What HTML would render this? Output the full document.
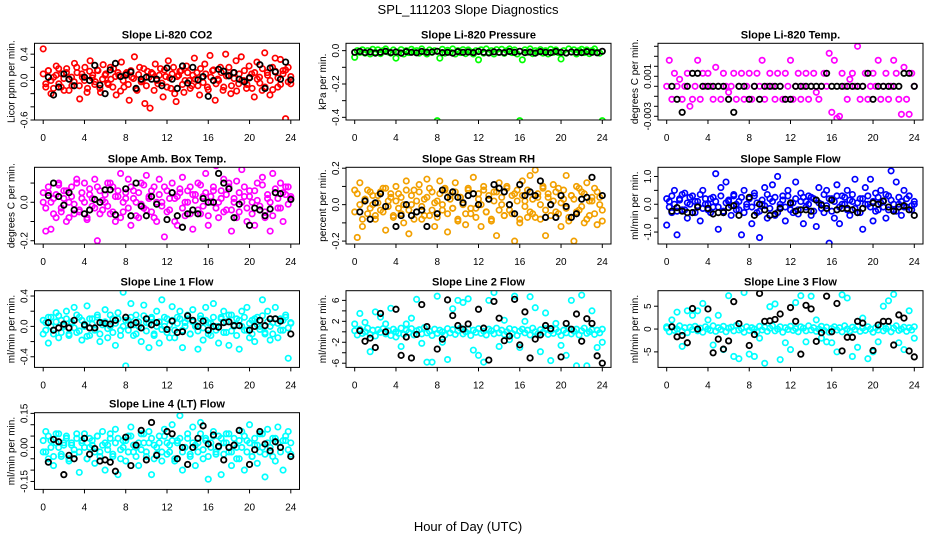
<!DOCTYPE html>
<html><head><meta charset="utf-8"><title>SPL_111203 Slope Diagnostics</title>
<style>html,body{margin:0;padding:0;background:#fff}svg{display:block;font-family:"Liberation Sans",sans-serif}</style>
</head><body>
<svg id="chart" width="936" height="540" viewBox="0 0 936 540" xmlns="http://www.w3.org/2000/svg">
<text x="468" y="14" text-anchor="middle" font-size="13">SPL_111203  Slope Diagnostics</text>
<text x="468" y="531" text-anchor="middle" font-size="13">Hour of Day (UTC)</text>
</svg>
<script>
const xTicks = [0,4,8,12,16,20,24];
const titles = ["Slope Li-820 CO2","Slope Li-820 Pressure","Slope Li-820 Temp.","Slope Amb. Box Temp.","Slope Gas Stream RH","Slope Sample Flow","Slope Line 1 Flow","Slope Line 2 Flow","Slope Line 3 Flow","Slope Line 4 (LT) Flow"];
const yTitles = ["Licor ppm per min.","kPa per min.","degrees C per min.","degrees C per min.","percent per min.","ml/min per min.","ml/min per min.","ml/min per min.","ml/min per min.","ml/min per min."];
const seriesColors = ["#ff0000","#00ff00","#ff00ff","#ff00ff","#f2a000","#0000ff","#00ffff","#00ffff","#00ffff","#00ffff"];
const yDomains = [[-0.6,0.565],[-0.416,0.044],[-0.00337,0.0043],[-0.217,0.182],[-0.216,0.205],[-1.43,1.33],[-0.54,0.47],[-6.8,7.85],[-8.4,8.4],[-0.185,0.153]];
const yTickValues = [[-0.6,-0.4,-0.2,0,0.2,0.4],[-0.4,-0.3,-0.2,-0.1,0],[-0.003,-0.002,-0.001,0,0.001,0.002,0.003,0.004],[-0.2,-0.1,0,0.1],[-0.2,-0.1,0,0.1,0.2],[-1,-0.5,0,0.5,1],[-0.4,-0.2,0,0.2,0.4],[-6,-4,-2,0,2,4,6],[-5,0,5],[-0.15,-0.1,-0.05,0,0.05,0.1,0.15]];
const yTickLabels = [["-0.6","","","0.0","","0.4"],["-0.4","","-0.2","","0.0"],["-0.003","","","","0.001","","",""],["-0.2","","0.0",""],["-0.2","","0.0","","0.2"],["-1.0","","0.0","","1.0"],["-0.4","","0.0","","0.4"],["-6","","-2","","2","","6"],["-5","0","5"],["-0.15","","","0.00","","","0.15"]];

const co2Values = [0.48,-0.1,0.15,-0.2,0.05,0.22,-0.05,0.1,-0.15,0.18,0.02,-0.08,0.26,0.12,-0.28,0.05,0.2,-0.12,0.3,0.08,-0.02,0.15,-0.18,0.24,0.1,-0.06,0.02,0.18,-0.22,0.08,0.28,-0.1,0.12,-0.3,0.05,0.36,-0.15,0.2,0.0,-0.35,0.14,-0.42,0.1,0.25,-0.05,0.18,-0.25,0.06,0.3,-0.12,0.2,-0.32,0.08,0.15,-0.18,0.22,0.0,-0.08,0.34,0.12,-0.22,0.05,0.25,-0.1,0.38,0.15,-0.3,0.02,0.2,-0.15,0.4,0.08,-0.2,0.12,0.3,-0.05,0.36,0.0,-0.12,0.22,0.1,-0.25,0.28,0.05,-0.15,0.42,0.12,-0.22,0.2,0.34,-0.1,0.32,0.15,-0.58,0.2,-0.05];
const co2Band = [0.1,-0.05,0.15,0.0,-0.12,0.08,0.18,-0.1,0.03,0.12,-0.15,0.05,-0.02,0.2,-0.08,0.1,0.0,-0.18,0.14,0.04,-0.06,0.16,-0.12,0.02,0.08,-0.04,0.2,-0.1,0.06,0.12,-0.16,0.0,0.1,-0.06,0.15,0.03,-0.13,0.09,-0.02,0.18,-0.08,0.05,0.12,-0.15,0.0,0.08,-0.04,0.16,-0.1,0.04,0.1,-0.2,0.06,0.14,-0.06,0.0,0.12,-0.12,0.08,0.02,-0.08,0.18,-0.03,0.1,-0.14,0.05,0.16,-0.05,0.0,0.12,-0.1,0.07,0.2,-0.08,0.03,-0.16,0.1,0.0,0.15,-0.06,0.05,-0.12,0.12,0.02,-0.04,0.18,-0.1,0.08,0.0,-0.14,0.14,0.04,-0.06,0.1,0.16,-0.02,0.06];
const co2Black = [null,0.05,-0.22,-0.1,0.1,0.02,-0.08,null,0.05,0.0,0.23,-0.07,-0.2,0.16,0.26,0.06,0.08,0.13,-0.12,0.02,0.05,0.02,0.02,-0.08,0.19,0.02,-0.12,0.22,-0.04,0.2,0.01,0.06,-0.24,0.0,0.17,0.14,0.07,0.12,0.02,-0.02,0.04,null,0.24,-0.12,0.19,0.13,0.02,0.28,0.01];
const pressureValues = [-0.04,0.0,-0.01,0.005,-0.015,0.0,-0.02,0.008, -0.01,0.005,-0.018,0.0,0.01,-0.008,-0.015,0.004, -0.045,-0.01,0.006,-0.02,0.0,-0.012,0.008,-0.005, 0.0,-0.015,0.01,-0.008,-0.02,0.004,-0.01,0.0, -0.42,-0.045,0.008,-0.015,0.002,-0.01,0.01,-0.02, 0.0,-0.012,0.006,-0.018,0.004,-0.008,-0.02,0.0, -0.055,0.005,-0.015,0.01,-0.01,0.0,-0.02,0.006, -0.01,0.008,-0.016,0.0,0.01,-0.012,0.004,-0.02, -0.42,-0.055,0.005,-0.01,0.01,-0.018,0.0,-0.008, 0.006,-0.015,0.0,-0.02,0.008,-0.01,0.004,-0.012, -0.05,0.0,-0.015,0.01,-0.008,0.005,-0.02,0.0, 0.008,-0.012,0.004,-0.018,0.0,0.01,-0.01,-0.015, -0.42];
const pressureBlack = [-0.01,-0.005,-0.012,-0.008,-0.015,-0.01,-0.004,-0.012,-0.008,-0.015,-0.006,-0.01,-0.013,-0.005,-0.01,-0.008,-0.004,-0.012,-0.01,-0.015,-0.006,-0.01,-0.008,-0.012,-0.005,-0.01,-0.014,-0.007,-0.01,-0.012,-0.005,-0.01,-0.004,-0.012,-0.009,-0.015,-0.006,-0.01,-0.012,-0.005,-0.01,-0.014,-0.008,-0.01,-0.012,-0.006,-0.01,-0.013,-0.004];
const tempValues = [0,0.0026,-0.0013,0.0013,0,0.0007,-0.0013,0, 0.0013,-0.002,-0.0013,0,0.0026,-0.0013,0.0013,0, 0.0013,0,-0.0013,0.0019,0,-0.0013,0.0013,0, -0.0006,0,0.0013,-0.0013,0,0.0013,-0.0013,0, 0.0013,-0.0013,0,0.0013,0,0.0026,-0.0013,0, 0.0013,0,-0.0013,0.0013,0,-0.0013,0.0013,0, 0.0026,-0.0013,0,0.0013,-0.0013,0,0.0013,-0.0013, 0,0.0013,-0.0006,-0.0013,0,0.0013,0,0.0033, -0.0026,0.0026,-0.0032,-0.003,0.0013,0,-0.0013,0.0007, 0.0013,0,0.004,-0.0013,0,0.0013,-0.0013,0, 0.0013,0,0.0026,-0.0013,0,0.0013,-0.0013,0, 0.0026,0.0013,-0.0013,-0.0028,0.0019,-0.0013,-0.0028,0.0013, 0];
const tempBlack = [null,0,-0.0013,-0.0026,0,0.0013,0.0013,0,0,0,0,0,-0.0013,-0.0026,0,0,-0.0013,0,-0.0013,0,0,0,0,-0.0013,-0.0013,0,0,0,0,0,0,0.0013,0,0,0,0,0,0,0,0.0013,-0.0013,0,0,0,0,0,0.0013,0.0013,0];
const ambValues = [0.0,-0.15,0.05,-0.14,0.02,-0.08,0.1,-0.03,0.06,-0.1,0.0,0.08,-0.06,0.12,-0.05,0.02,0.1,-0.08,0.04,-0.02,0.12,-0.2,0.06,-0.04,0.0,0.1,-0.06,0.08,-0.1,0.03,0.15,-0.05,0.02,0.12,-0.12,0.06,0.0,-0.08,0.1,-0.03,0.14,0.02,-0.05,0.08,-0.1,0.12,0.0,-0.18,0.06,-0.04,0.1,0.02,-0.12,0.05,0.13,-0.07,0.0,0.08,-0.14,0.04,0.1,-0.06,0.03,0.15,-0.12,0.0,0.06,0.19,-0.08,0.02,0.12,-0.04,0.08,-0.15,0.0,0.11,-0.05,0.17,0.03,-0.1,0.06,0.0,-0.12,0.1,-0.04,0.13,-0.08,0.02,-0.15,0.15,0.05,-0.03,0.1,-0.1,0.04,0.08,0.02];
const ambBand = [0.05,-0.03,0.08,0.0,-0.06,0.04,0.09,-0.05,0.02,0.06,-0.08,0.03,-0.01,0.1,-0.04,0.05,0.0,-0.09,0.07,0.02,-0.03,0.08,-0.06,0.01,0.04,-0.02,0.1,-0.05,0.03,0.06,-0.08,0.0,0.05,-0.03,0.08,0.02,-0.07,0.05,-0.01,0.09,-0.04,0.03,0.06,-0.08,0.0,0.04,-0.02,0.08,-0.05,0.02,0.05,-0.1,0.03,0.07,-0.03,0.0,0.06,-0.06,0.04,0.01,-0.04,0.09,-0.02,0.05,-0.07,0.03,0.08,-0.03,0.0,0.06,-0.05,0.04,0.1,-0.04,0.02,-0.08,0.05,0.0,0.08,-0.03,0.03,-0.06,0.06,0.01,-0.02,0.09,-0.05,0.04,0.0,-0.07,0.07,0.02,-0.03,0.05,0.08,-0.01,0.03];
const ambBlack = [null,0.035,0.1,0.03,-0.015,0.05,-0.04,null,-0.06,-0.04,0.015,0.0,0.065,0.065,-0.065,null,0.07,-0.07,0.1,-0.02,-0.07,0.03,-0.01,null,-0.09,0.05,-0.07,-0.13,-0.06,-0.04,-0.06,0.02,0.0,0.0,0.15,0.1,0.07,-0.08,-0.01,null,-0.12,-0.03,-0.04,-0.07,-0.035,0.05,0.045,null,0.015];
const rhValues = [0.08,-0.18,0.12,-0.12,0.03,-0.05,0.07,0.0,-0.08,0.05,-0.03,0.09,-0.14,0.02,0.06,-0.06,0.1,-0.02,0.04,-0.1,0.13,-0.16,0.0,0.08,-0.04,0.11,-0.08,0.03,0.14,-0.06,0.07,-0.12,0.02,0.13,-0.03,0.09,-0.15,0.05,-0.02,0.12,-0.09,0.04,0.0,-0.11,0.08,-0.05,0.15,-0.02,0.06,-0.12,0.1,-0.04,0.03,-0.08,0.07,-0.17,0.12,0.0,-0.06,0.1,-0.03,0.05,-0.2,0.08,-0.1,0.13,0.02,-0.07,0.16,-0.05,0.19,0.04,-0.08,0.1,-0.17,0.06,0.0,0.11,-0.04,0.09,-0.12,0.03,0.16,-0.09,0.05,-0.2,0.1,-0.03,0.07,-0.1,0.12,-0.06,0.02,0.09,-0.11,0.04,-0.09];
const rhBand = [-0.04,0.06,0.0,-0.08,0.03,0.08,-0.02,0.05,-0.06,0.01,0.07,-0.04,0.09,-0.01,0.04,-0.07,0.02,0.06,-0.05,0.0,0.08,-0.03,0.05,-0.08,0.02,0.07,-0.01,-0.06,0.04,0.09,-0.03,0.01,-0.07,0.06,0.0,0.08,-0.05,0.03,-0.02,0.07,-0.08,0.04,0.01,-0.05,0.09,-0.02,0.06,-0.07,0.03,0.0,0.08,-0.04,0.05,-0.09,0.02,0.07,-0.03,0.04,-0.06,0.09,0.0,-0.05,0.06,0.02,-0.08,0.05,-0.01,0.08,-0.04,0.03,-0.07,0.06,0.0,0.09,-0.03,0.04,-0.06,0.02,0.07,-0.05,0.01,0.08,-0.02,-0.07,0.05,0.03,-0.04,0.09,-0.01,0.06,-0.08,0.02,0.04,-0.05,0.07,0.0,-0.03];
const rhBlack = [null,-0.04,0.02,-0.08,0.01,0.06,-0.01,null,-0.12,-0.06,0.0,-0.06,-0.04,-0.03,-0.12,null,-0.05,0.08,0.04,0.07,0.04,0.01,0.05,0.06,0.0,null,0.03,0.11,0.09,0.07,0.0,-0.05,0.11,0.05,0.07,0.05,0.13,-0.07,0.0,-0.07,0.05,-0.01,-0.07,-0.05,0.03,0.04,0.15,null,0.05];
const sampleValues = [-0.75,0.1,-0.3,0.5,-1.1,0.2,-0.2,0.4,-0.5,0.0,0.3,-0.3,0.1,-0.6,0.5,0.0,-0.2,0.2,-0.1,1.1,-0.9,0.6,-0.3,0.8,0.1,-0.4,0.3,0.0,-0.2,-1.1,0.5,-0.1,0.2,-0.7,0.4,-0.3,-1.2,0.0,0.6,-0.5,0.2,0.7,-0.4,1.0,-0.1,0.3,-0.6,0.5,0.0,-0.3,0.8,-0.2,0.4,-0.7,0.1,0.3,-0.4,0.2,-0.8,0.6,0.0,-0.3,0.5,-1.4,0.2,-0.5,0.7,-0.7,0.3,0.0,0.5,-0.4,0.1,0.9,-0.3,0.2,-0.9,0.6,0.0,0.9,-0.6,0.4,-0.2,0.5,0.1,-0.5,0.3,1.2,-0.2,0.8,0.0,-0.4,0.5,-0.1,0.3,-0.2,0.0];
const sampleBand = [0.2,-0.1,0.3,0.0,-0.25,0.15,0.35,-0.2,0.05,0.25,-0.3,0.1,-0.05,0.35,-0.15,0.2,0.0,-0.3,0.25,0.1,-0.1,0.3,-0.25,0.05,0.15,-0.05,0.35,-0.2,0.1,0.25,-0.3,0.0,0.2,-0.1,0.3,0.05,-0.25,0.15,-0.05,0.35,-0.15,0.1,0.25,-0.3,0.0,0.15,-0.1,0.3,-0.2,0.05,0.2,-0.35,0.1,0.25,-0.1,0.0,0.25,-0.25,0.15,0.05,-0.15,0.35,-0.05,0.2,-0.25,0.1,0.3,-0.1,0.0,0.25,-0.2,0.15,0.35,-0.15,0.05,-0.3,0.2,0.0,0.3,-0.1,0.1,-0.25,0.25,0.05,-0.1,0.35,-0.2,0.15,0.0,-0.25,0.25,0.1,-0.1,0.2,0.3,-0.05,0.1];
const sampleBlack = [null,-0.25,-0.12,-0.25,-0.3,-0.3,-0.1,null,-0.15,-0.35,-0.3,-0.3,-0.12,-0.05,-0.4,null,0.25,-0.4,0.0,-0.2,-0.4,-0.35,-0.15,null,0.05,-0.25,-0.2,-0.2,-0.25,0.15,-0.03,-0.15,0.15,-0.2,-0.15,-0.15,-0.2,-0.3,-0.15,null,0.05,0.0,0.12,-0.1,-0.25,-0.1,-0.05,-0.2,-0.4];
const line1Values = [-0.1,0.05,-0.22,0.12,-0.05,0.18,-0.15,0.08,0.0,0.2,-0.1,0.06,0.25,-0.08,0.12,-0.18,0.03,0.27,-0.12,0.1,-0.02,0.15,-0.2,0.05,0.22,-0.15,0.0,0.1,-0.25,0.18,-0.05,0.45,-0.52,0.08,0.3,-0.12,0.15,0.0,-0.2,0.28,0.05,-0.28,0.12,-0.1,0.2,-0.22,0.35,0.0,0.1,-0.15,0.26,-0.05,0.12,0.2,-0.28,0.05,0.15,-0.1,0.22,0.0,-0.3,0.1,-0.18,0.25,0.05,-0.12,0.3,0.0,-0.22,0.12,0.2,-0.08,-0.25,0.15,0.0,0.1,-0.3,0.2,-0.05,0.25,-0.15,0.08,-0.2,0.12,0.0,0.35,-0.1,0.2,-0.18,0.05,0.25,-0.15,0.1,-0.05,0.15,-0.42,0.05];
const line1Band = [0.08,-0.05,0.12,0.0,-0.1,0.06,0.14,-0.08,0.02,0.1,-0.12,0.04,-0.02,0.15,-0.06,0.08,0.0,-0.13,0.1,0.03,-0.05,0.12,-0.1,0.02,0.06,-0.03,0.15,-0.08,0.04,0.1,-0.12,0.0,0.08,-0.05,0.12,0.02,-0.1,0.06,-0.02,0.14,-0.06,0.04,0.1,-0.12,0.0,0.06,-0.04,0.12,-0.08,0.02,0.08,-0.15,0.04,0.1,-0.05,0.0,0.1,-0.1,0.06,0.02,-0.06,0.14,-0.02,0.08,-0.1,0.04,0.12,-0.05,0.0,0.1,-0.08,0.06,0.15,-0.06,0.02,-0.12,0.08,0.0,0.12,-0.05,0.04,-0.1,0.1,0.02,-0.04,0.14,-0.08,0.06,0.0,-0.1,0.1,0.04,-0.05,0.08,0.12,-0.02,0.04];
const line1Black = [null,0.05,-0.05,-0.02,0.03,-0.02,0.08,null,0.02,-0.02,-0.02,0.05,0.04,0.03,0.08,null,0.12,0.02,0.05,-0.02,0.1,0.02,0.05,null,-0.04,0.07,-0.08,-0.07,0.14,0.08,0.0,0.07,-0.05,0.0,-0.01,0.05,0.06,0.01,0.01,null,-0.05,0.0,0.08,0.01,0.1,0.1,0.07,null,-0.1];
const bandValues = [0.2,-0.6,0.5,-0.3,0.0,0.7,-0.5,0.3,-0.8,0.4,-0.1,0.6,-0.4,0.2,-0.7,0.5,0.0,-0.3,0.7,-0.5,0.3,-0.1,0.6,-0.6,0.2,0.4,-0.4,0.8,-0.2,0.1,-0.7,0.5,-0.3,0.3,0.0,-0.6,0.6,-0.2,0.4,-0.5,0.2,0.7,-0.4,0.0,0.5,-0.7,0.3,-0.1,0.6,-0.3,0.1,-0.6,0.5,0.2,-0.4,0.7,-0.2,0.3,-0.5,0.0,0.6,-0.3,0.4,-0.7,0.1,0.5,-0.2,0.3,-0.6,0.7,0.0,-0.4,0.4,-0.1,0.6,-0.5,0.2,-0.3,0.5,0.0,-0.7,0.3,-0.2,0.6,-0.4,0.1,0.5,-0.6,0.2,0.7,-0.3,0.0,0.4,-0.5,0.3,-0.2,0.5];
const line2Values = [1.5,3.5,1.8,-3.8,3.8,2.8,1.5,4.5,-1.0,-2.8,1.5,2.6,6.2,-2.2,-5.8,-5.8,6.8,-2.0,-5.3,4.4,6.0,5.6,6.3,-3.5,-4.5,-5.8,6.0,7.5,-2.8,2.2,-1.5,6.8,-3.0,2.0,6.7,4.6,-3.8,3.6,-5.5,1.6,-2.6,-4.5,6.0,-6.5,7.0,-6.5,4.0,-3.0,-2.0];
const line2Black = [null,0.2,-1.8,-1.2,-3.0,3.5,0.0,null,4.3,-4.5,-1.0,-5.0,-0.5,5.2,1.0,null,-3.3,-1.4,6.1,3.1,1.2,0.5,1.5,null,4.3,0.7,-5.4,5.8,2.6,-1.7,-0.8,6.2,-2.5,3.8,-5.0,-1.4,-0.6,1.2,0.6,null,-4.8,1.6,0.5,3.4,-1.8,2.5,1.6,-4.6,-6.0];
const line3Values = [0.5,2.0,3.7,-3.8,4.0,3.0,4.0,5.6,2.0,-3.5,3.0,-4.5,7.3,-6.0,-6.5,8.0,-5.5,-6.0,-2.0,-7.5,4.9,5.5,-6.7,-3.0,-4.5,5.8,7.3,-2.8,7.2,2.0,-2.0,-2.8,-3.0,-5.0,7.5,6.8,-6.0,-4.0,2.4,-6.5,-5.0,-2.8,5.0,6.2,7.6,-3.0,-4.5,4.0,-2.0];
const line3Black = [null,0.5,-1.7,-1.4,-3.0,4.5,0.0,null,4.4,-5.2,-2.2,-4.4,-2.6,6.0,1.2,null,-3.6,-1.2,7.8,1.7,1.8,2.1,3.3,null,4.7,1.7,-5.5,5.2,4.4,-2.7,-0.8,7.2,-0.6,5.6,-4.8,-1.8,-1.8,1.7,1.3,null,-4.7,0.9,1.7,1.7,-3.5,3.1,2.4,-4.8,-6.1];
const line4Values = [-0.02,0.07,-0.05,0.03,-0.08,0.06,0.0,-0.04,0.02,0.05,-0.06,0.01,-0.03,0.04,-0.11,0.02,0.06,-0.05,0.0,0.03,-0.07,0.05,-0.02,0.07,-0.1,0.01,0.04,-0.04,0.08,-0.12,-0.01,0.03,-0.06,0.05,0.09,-0.02,0.0,-0.08,0.06,0.02,-0.04,0.07,-0.12,0.01,-0.03,0.05,-0.06,0.08,0.02,-0.02,0.1,-0.05,0.03,0.14,-0.1,0.0,0.06,-0.03,0.09,-0.08,0.02,0.11,-0.05,0.04,-0.14,0.0,0.07,-0.03,0.05,-0.12,0.02,0.06,-0.02,-0.08,0.04,0.0,-0.05,0.07,-0.1,0.03,0.1,-0.04,0.01,-0.07,0.06,0.0,-0.13,0.08,-0.02,0.04,-0.06,0.09,0.0,-0.1,0.03,0.07,-0.03];
const line4Band = [0.03,-0.02,0.05,0.0,-0.04,0.02,0.06,-0.03,0.01,0.04,-0.05,0.02,-0.01,0.06,-0.02,0.03,0.0,-0.05,0.04,0.01,-0.02,0.05,-0.04,0.01,0.02,-0.01,0.06,-0.03,0.02,0.04,-0.05,0.0,0.03,-0.02,0.05,0.01,-0.04,0.02,-0.01,0.06,-0.02,0.02,0.04,-0.05,0.0,0.02,-0.02,0.05,-0.03,0.01,0.03,-0.06,0.02,0.04,-0.02,0.0,0.04,-0.04,0.02,0.01,-0.02,0.06,-0.01,0.03,-0.04,0.02,0.05,-0.02,0.0,0.04,-0.03,0.02,0.06,-0.02,0.01,-0.05,0.03,0.0,0.05,-0.02,0.02,-0.04,0.04,0.01,-0.02,0.06,-0.03,0.02,0.0,-0.04,0.04,0.02,-0.02,0.03,0.05,-0.01,0.02];
const line4Black = [null,-0.065,0.035,0.025,-0.12,-0.035,-0.05,null,0.04,-0.03,-0.005,-0.06,-0.055,-0.065,-0.105,null,0.045,-0.08,0.01,0.075,-0.055,0.11,-0.035,null,0.07,0.06,-0.05,0.0,-0.075,0.0,0.04,0.095,0.015,0.055,0.005,-0.055,0.0,0.01,0.075,null,-0.075,-0.01,0.07,0.015,-0.015,0.025,0.0,null,-0.04];
const bandValues3 = bandValues;

const coloredSeries = [[co2Values,co2Band],[pressureValues],[tempValues],[ambValues,ambBand],[rhValues,rhBand],[sampleValues,sampleBand],[line1Values,line1Band],[bandValues,line2Values],[bandValues3,line3Values],[line4Values,line4Band]];
const blackSeries = [co2Black,pressureBlack,tempBlack,ambBlack,rhBlack,sampleBlack,line1Black,line2Black,line3Black,line4Black];

const NS = "http://www.w3.org/2000/svg";
const svg = document.getElementById('chart');
const colLeft = [34.5,346,658], rowTop = [43.3,167.3,290.7,412.7];
const boxW = 265, boxH = 76.7, pad = 8.7;
function mk(tag, attrs, parent){const e=document.createElementNS(NS,tag);for(const k in attrs)e.setAttribute(k,attrs[k]);(parent||svg).appendChild(e);return e;}

titles.forEach((title, p) => {
  const L = colLeft[p % 3], T = rowTop[Math.floor(p / 3)];
  const g = mk('g', {});
  
  
  const xScale = h => L + pad + (h / 24) * (boxW - 2 * pad);
  const [ymin, ymax] = yDomains[p];
  const yScale = v => T + boxH - (v - ymin) / (ymax - ymin) * boxH;
  const cid = 'clip' + p;
  const cp = mk('clipPath', {id: cid}, g);
  mk('rect', {x: L, y: T, width: boxW, height: boxH}, cp);
  const pts = mk('g', {'clip-path': 'url(#' + cid + ')'}, g);
  
  
  coloredSeries[p].forEach(arr => {
    arr.forEach((v, i) => {
      if (v === null) return;
      const c = mk('circle', {cx: xScale(i * 24 / (arr.length - 1)), cy: yScale(v), r: 2.7, fill: 'none', stroke: seriesColors[p], 'stroke-width': 1.7}, pts);
      
      
    });
  });
  const bk = blackSeries[p];
  bk.forEach((v, i) => {
    if (v === null) return;
    const c = mk('circle', {cx: xScale(i * 24 / (bk.length - 1)), cy: yScale(v), r: 2.7, fill: 'none', stroke: '#000', 'stroke-width': 1.8}, pts);
    
    
  });
  const box = mk('rect', {x: L, y: T, width: boxW, height: boxH, fill: 'none', stroke: '#000', 'stroke-width': 1}, g);
  
  
  xTicks.forEach(h => {
    const x = xScale(h);
    mk('line', {x1: x, x2: x, y1: T + boxH, y2: T + boxH + 4, stroke: '#000'}, g);
    const t = mk('text', {x: x, y: T + boxH + 21, 'text-anchor': 'middle', 'font-size': 10}, g);
    t.textContent = String(h);
    
    
  });
  yTickValues[p].forEach((v, i) => {
    const y = yScale(v);
    mk('line', {x1: L - 4, x2: L, y1: y, y2: y, stroke: '#000'}, g);
    const lab = yTickLabels[p][i];
    if (lab) {
      const t = mk('text', {x: 0, y: 0, 'text-anchor': 'middle', 'font-size': 10, transform: 'translate(' + (L - 7) + ',' + y + ') rotate(-90)'}, g);
      t.textContent = lab;
      
      
    }
  });
  const tt = mk('text', {x: L + boxW / 2, y: T - 5, 'text-anchor': 'middle', 'font-size': 11, 'font-weight': 'bold'}, g);
  tt.textContent = title;
  
  
  const yt = mk('text', {x: 0, y: 0, 'text-anchor': 'middle', 'font-size': 10, transform: 'translate(' + (L - 20) + ',' + (T + boxH / 2) + ') rotate(-90)'}, g);
  yt.textContent = yTitles[p];
  
  
});
</script>
</body></html>
